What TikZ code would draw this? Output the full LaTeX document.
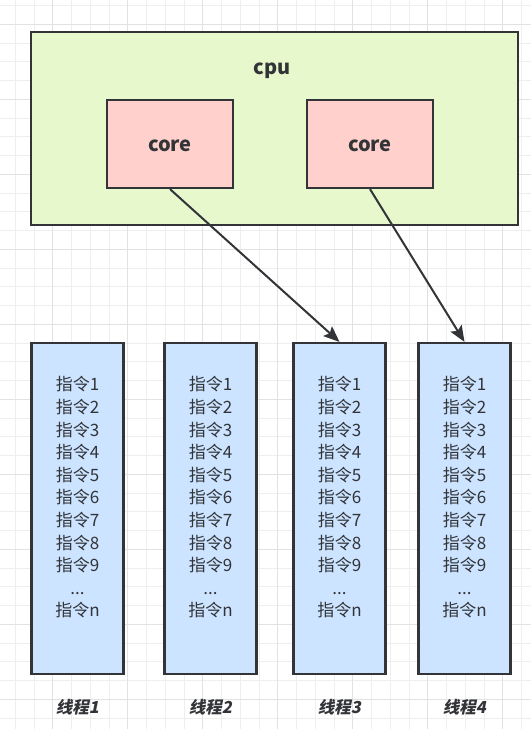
\documentclass[tikz,border=0pt]{standalone}
\usepackage{fontspec}
\usepackage{xcolor}
\usetikzlibrary{arrows.meta}
\setmainfont{Noto Sans CJK SC}
\newfontfamily\threadfont[FakeSlant=0.2]{Noto Sans CJK SC}
\definecolor{cpugreen}{RGB}{230,248,204}
\definecolor{corered}{RGB}{255,208,204}
\definecolor{threadblue}{RGB}{204,228,255}
\definecolor{edge}{RGB}{50,52,56}
\definecolor{gridminor}{RGB}{238,238,238}
\definecolor{gridmajor}{RGB}{226,226,226}

\begin{document}
\begin{tikzpicture}[x=1pt,y=-1pt,
  box/.style={draw=edge,line width=2.2pt,inner sep=0pt},
  cpubox/.style={box,fill=cpugreen,minimum width=487pt,minimum height=193pt},
  corebox/.style={box,fill=corered,minimum width=126pt,minimum height=88pt},
  threadbox/.style={box,fill=threadblue,minimum width=92pt,minimum height=331pt},
  boldtext/.style={inner sep=0pt,text=edge,font=\fontsize{20}{24}\selectfont\bfseries},
  steps/.style={align=center,inner sep=0pt,text=edge,
    font=\fontsize{17}{22.6}\selectfont},
  threadlabel/.style={inner sep=0pt,text=edge,
    font=\threadfont\fontsize{16.5}{20}\selectfont\bfseries},
  link/.style={draw=edge,line width=2pt,-{Stealth[length=16pt,width=13pt,inset=3pt]}}]
\useasboundingbox (0,0) rectangle (531,729);
\fill[white] (0,0) rectangle (531,729);
% background grid
\foreach \gx in {15.2,33.95,...,531}
  \draw[gridminor,line width=0.8pt] (\gx,0) -- (\gx,729);
\foreach \gy in {5.55,24.3,...,729}
  \draw[gridminor,line width=0.8pt] (0,\gy) -- (531,\gy);
\foreach \gx in {52.7,127.7,...,531}
  \draw[gridmajor,line width=0.8pt] (\gx,0) -- (\gx,729);
\foreach \gy in {24.3,99.3,...,729}
  \draw[gridmajor,line width=0.8pt] (0,\gy) -- (531,\gy);

% cpu with two cores
\node[cpubox] (cpu) at (274.5,128.5) {};
\node[boldtext] (cpulabel) at (272,70.5) {cpu};
\node[corebox] (core1) at (170,144) {};
\node[corebox] (core2) at (370,144) {};
\node[boldtext] (core1label) at (170,146) {core};
\node[boldtext] (core2label) at (370,146) {core};

% threads
\foreach \i/\tx in {1/77.5,2/210.5,3/339.5,4/464.5}{
  \node[threadbox] (t\i) at (\tx,508.5) {};
  \node[steps] (s\i) at ([yshift=11pt]t\i.center)
    {指令1\\指令2\\指令3\\指令4\\指令5\\指令6\\指令7\\指令8\\指令9\\...\\指令n};
  \node[threadlabel] (l\i) at (\tx,707) {线程\i};
}

\draw[link] (core1.south) -- (t3.north);
\draw[link] (core2.south) -- (t4.north);
\end{tikzpicture}
\end{document}
